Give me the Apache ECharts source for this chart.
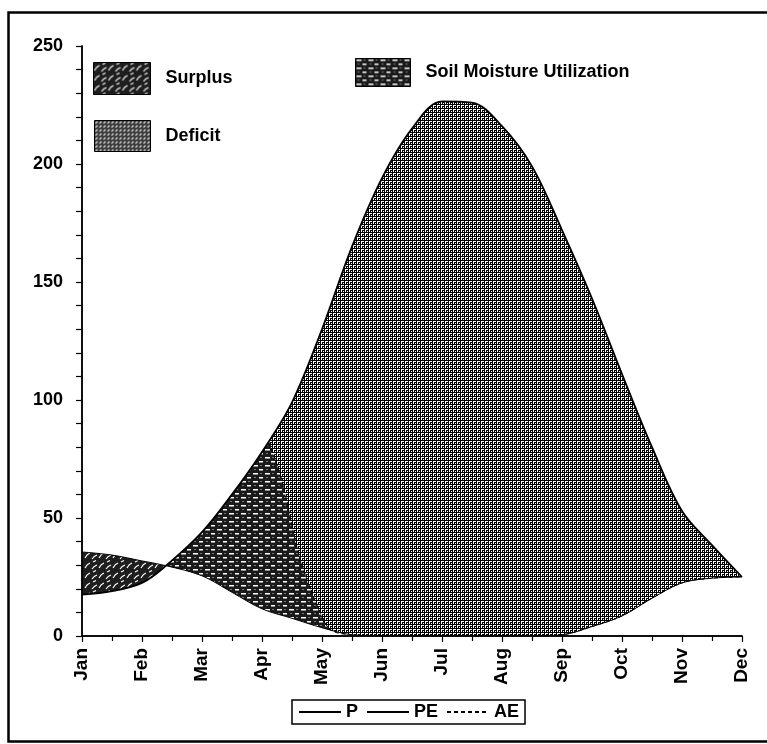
<!DOCTYPE html>
<html>
<head>
    <meta charset="utf-8">
    <title>Water balance</title>
    <script src="https://cdn.jsdelivr.net/npm/echarts@6/dist/echarts.min.js"></script>
    <style>
        html, body { margin: 0; padding: 0; background: #fff; }
        #main { width: 767px; height: 744px; }
    </style>
</head>
<body>
    <div id="main"></div>
    <script type="text/javascript">
        // tick labels
        var months = ['Jan', 'Feb', 'Mar', 'Apr', 'May', 'Jun', 'Jul', 'Aug', 'Sep', 'Oct', 'Nov', 'Dec'];

        // [month index, mm] every half month; 1.4 is where P and PE cross
        var P = [[0, 35.6], [0.5, 34.3], [1, 31.8], [1.4, 29.8], [2, 25.5], [2.5, 18.5], [3, 11.5], [3.5, 7.5],
            [4, 3.5], [4.5, 0.5], [5, 0], [5.5, 0], [6, 0], [6.5, 0], [7, 0], [7.5, 0], [8, 0.5], [8.5, 4],
            [9, 8.5], [9.5, 16], [10, 22.5], [10.5, 24.5], [11, 25]];
        var PE = [[0, 17.5], [0.5, 19], [1, 22.5], [1.4, 29.8], [2, 44], [2.5, 60], [3, 78], [3.5, 99],
            [4, 130], [4.5, 165], [5, 194], [5.5, 215], [6, 226.5], [6.5, 226], [7, 216], [7.5, 199], [8, 172],
            [8.5, 143], [9, 111], [9.5, 80], [10, 53], [10.5, 38.5], [11, 25]];
        var AE = [[0, 17.5], [0.5, 19], [1, 22.5], [1.4, 29.8], [2, 44], [2.5, 60], [3, 78], [3.12, 82],
            [3.33, 66], [3.58, 38], [3.75, 24], [3.97, 10], [4.15, 2.5], [4.5, 0.5], [5, 0], [5.5, 0], [6, 0],
            [6.5, 0], [7, 0], [7.5, 0], [8, 0.5], [8.5, 4], [9, 8.5], [9.5, 16], [10, 22.5], [10.5, 24.5], [11, 25]];

        var crossEnd = 4;   // points up to and including the P/PE crossing
        var aePeak = 7;     // AE leaves PE here

        var font = 'Liberation Sans, Arial, sans-serif';
        var smooth = 0.35;

        // fill textures drawn on small canvases
        function tile(w, h, draw) {
            var c = document.createElement('canvas');
            c.width = w;
            c.height = h;
            draw(c.getContext('2d'));
            return { image: c, repeat: 'repeat' };
        }
        var deficitFill = tile(4, 4, function(g) {
            g.fillStyle = '#fff';
            g.fillRect(0, 0, 4, 4);
            g.fillStyle = '#000';
            g.fillRect(0, 0, 4, 1);
            g.fillRect(0, 0, 1, 4);
            g.fillRect(2, 2, 2, 1);
            g.fillRect(2, 3, 1, 1);
        });
        var surplusFill = tile(14, 10, function(g) {
            g.fillStyle = '#1e1e1e';
            g.fillRect(0, 0, 14, 10);
            g.strokeStyle = '#fff';
            g.lineWidth = 1.1;
            g.beginPath();
            g.moveTo(1, 8); g.quadraticCurveTo(3, 4, 6, 3);
            g.moveTo(8, 9); g.quadraticCurveTo(10, 6, 13, 5);
            g.moveTo(9, 2); g.lineTo(12, 0.5);
            g.stroke();
        });
        var soilFill = tile(12, 8, function(g) {
            g.fillStyle = '#1a1a1a';
            g.fillRect(0, 0, 12, 8);
            g.fillStyle = '#fff';
            g.fillRect(1, 1, 5, 1.5);
            g.fillRect(7, 5, 4, 1.5);
            g.fillStyle = '#777';
            g.fillRect(8, 1, 2, 1);
            g.fillRect(2, 5, 2, 1);
        });

        function fill(name, data, color, origin, z) {
            return {
                name: name,
                type: 'line',
                data: data,
                smooth: smooth,
                symbol: 'none',
                silent: true,
                z: z,
                lineStyle: { width: 0, opacity: 0 },
                areaStyle: { color: color, opacity: 1, origin: origin }
            };
        }

        function curve(name, data, width, dash, z) {
            return {
                name: name,
                type: 'line',
                data: data,
                smooth: smooth,
                symbol: 'none',
                silent: true,
                z: z,
                itemStyle: { color: '#000' },
                lineStyle: { color: '#000', width: width, type: dash }
            };
        }

        function topLegend(name, left, top, w, h, color) {
            return {
                left: left,
                top: top,
                z: 30,
                selectedMode: false,
                itemWidth: w,
                itemHeight: h,
                padding: 0,
                textStyle: { fontFamily: font, fontWeight: 'bold', fontSize: 18, color: '#000', padding: [0, 0, 0, 10] },
                data: [{ name: name, icon: 'rect', itemStyle: { color: color, borderColor: '#000', borderWidth: 1 } }]
            };
        }

        var myChart = echarts.init(document.getElementById('main'));

        var option = {
            animation: false,
            backgroundColor: '#fff',
            // 60 px per month, so the P/PE crossing lands on a whole pixel
            grid: { left: 82, right: 25, top: 46, bottom: 108 },
            graphic: [{
                type: 'rect',
                left: 6,
                top: 10,
                shape: { width: 800, height: 729 },
                style: { fill: 'none', stroke: '#000', lineWidth: 2.5 },
                silent: true
            }],
            legend: [
                topLegend('Surplus', 93, 62, 57, 32, surplusFill),
                topLegend('Soil Moisture Utilization', 355, 58, 55, 28, soilFill),
                topLegend('Deficit', 94, 120, 56, 31, deficitFill),
                {
                    left: 292,
                    top: 700,
                    z: 30,
                    selectedMode: false,
                    borderColor: '#000',
                    borderWidth: 1.5,
                    padding: [3, 6],
                    itemWidth: 42,
                    itemHeight: 14,
                    itemGap: 8,
                    itemStyle: { opacity: 0 },
                    textStyle: { fontFamily: font, fontWeight: 'bold', fontSize: 18, color: '#000' },
                    data: ['P', 'PE', 'AE']
                }
            ],
            xAxis: [{
                type: 'value',
                min: 0,
                max: 11,
                interval: 1,
                z: 20,
                axisLine: { lineStyle: { color: '#000', width: 1.5 } },
                axisTick: { length: 6, lineStyle: { color: '#000', width: 1.2 } },
                minorTick: { show: true, splitNumber: 2, length: 5, lineStyle: { color: '#000', width: 1.2 } },
                splitLine: { show: false },
                axisLabel: {
                    rotate: 90,
                    margin: 12,
                    fontFamily: font,
                    fontWeight: 'bold',
                    fontSize: 19,
                    color: '#000',
                    formatter: function(v) { return months[v]; }
                }
            }, {
                type: 'value',
                position: 'top',
                min: 0,
                max: 11,
                z: 20,
                axisLine: { show: true, lineStyle: { color: '#000', width: 1.5 } },
                axisTick: { show: false },
                axisLabel: { show: false },
                splitLine: { show: false }
            }],
            yAxis: [{
                type: 'value',
                min: 0,
                max: 250,
                interval: 50,
                z: 20,
                axisLine: { show: true, lineStyle: { color: '#000', width: 1.5 } },
                axisTick: { show: true, length: 6, lineStyle: { color: '#000', width: 1.2 } },
                minorTick: { show: true, splitNumber: 5, length: 6, lineStyle: { color: '#000', width: 1.2 } },
                splitLine: { show: false },
                axisLabel: { margin: 19, fontFamily: font, fontWeight: 'bold', fontSize: 18, color: '#000' }
            }, {
                type: 'value',
                position: 'right',
                min: 0,
                max: 250,
                z: 20,
                axisLine: { show: true, lineStyle: { color: '#000', width: 1.5 } },
                axisTick: { show: false },
                axisLabel: { show: false },
                splitLine: { show: false }
            }],
            series: [
                // soil moisture under PE, deficit above AE, then white masks outside the bands
                fill('Soil Moisture Utilization', PE, soilFill, 'start', 2),
                fill('Deficit', AE.slice(aePeak), deficitFill, 'end', 3),
                fill('maskTop', PE, '#fff', 'end', 4),
                fill('maskLow', P, '#fff', 'start', 5),
                // surplus band between PE and P before the crossing
                fill('Surplus', P.slice(0, crossEnd), surplusFill, 'start', 6),
                fill('maskSurplus', PE.slice(0, crossEnd), '#fff', 'start', 7),
                curve('P', P, 1, 'solid', 8),
                curve('AE', AE.slice(aePeak), 1, [4, 3], 8),
                curve('PE', PE, 1.8, 'solid', 9)
            ]
        };

        myChart.setOption(option);
    </script>
</body>
</html>
